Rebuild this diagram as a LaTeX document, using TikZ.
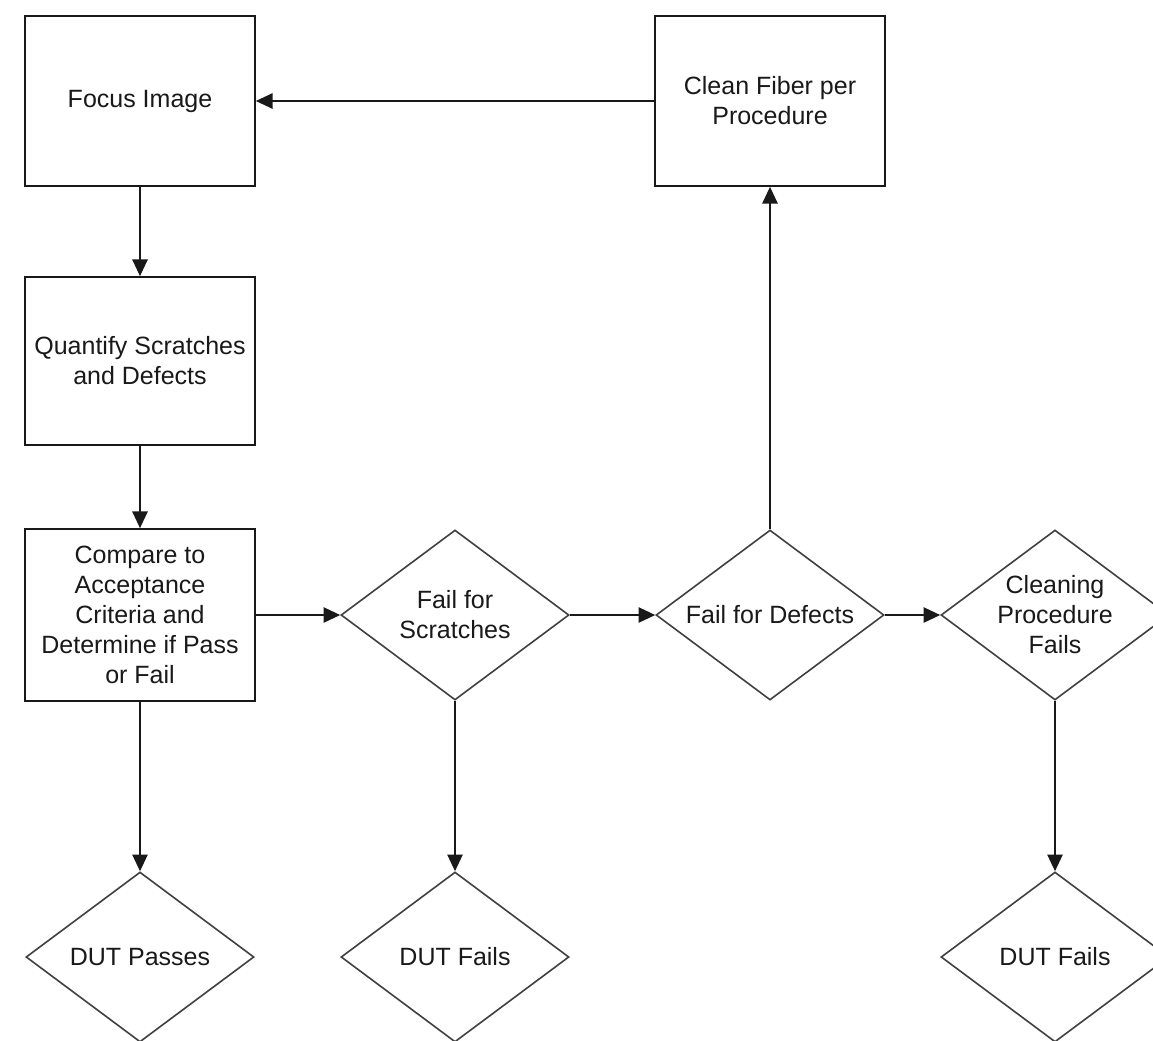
\documentclass[tikz,border=0pt]{standalone}
\usepackage{fontspec}
\setmainfont{Liberation Sans}
\usetikzlibrary{shapes.geometric,arrows.meta}
\tikzset{
  txt/.style={font=\fontsize{18.75pt}{22.5pt}\selectfont, text=black!90, align=center},
  procbox/.style={txt, draw=black!90, line width=1.3pt, rectangle, minimum width=172.5pt, minimum height=127.5pt, inner sep=0pt},
  decision/.style={txt, draw=black!75, line width=1.2pt, diamond, aspect=1.34, minimum width=171pt, minimum height=127.5pt, inner sep=0pt},
  arr/.style={draw=black!90, line width=1.2pt, -{Triangle[length=12.5pt,width=11.5pt]}}
}
\begin{document}
\begin{tikzpicture}[x=0.75pt,y=-0.75pt]
\fill[white] (0,0) rectangle (1153,1040);
\useasboundingbox (0,0) rectangle (1153,1040);
\clip (0,0) rectangle (1153,1040);
\node[procbox] (focus) at (140,101) {Focus Image};
\node[procbox] (clean) at (770,101) {Clean Fiber per\\Procedure};
\node[procbox, minimum height=126pt] (quant) at (140,361) {Quantify Scratches\\and Defects};
\node[procbox, minimum height=129pt] (compare) at (140,615) {Compare to\\Acceptance\\Criteria and\\Determine if Pass\\or Fail};
\node[decision] (fs) at (455,615) {Fail for\\Scratches};
\node[decision] (fd) at (770,615) {Fail for Defects};
\node[decision] (cp) at (1055,615) {Cleaning\\Procedure\\Fails};
\node[decision] (dp) at (140,957) {DUT Passes};
\node[decision] (df1) at (455,957) {DUT Fails};
\node[decision] (df2) at (1055,957) {DUT Fails};
\draw[arr] (clean) -- (focus);
\draw[arr] (focus) -- (quant);
\draw[arr] (quant) -- (compare);
\draw[arr] (compare) -- (fs);
\draw[arr] (fs) -- (fd);
\draw[arr] (fd) -- (cp);
\draw[arr] (fd) -- (clean);
\draw[arr] (compare) -- (dp);
\draw[arr] (fs) -- (df1);
\draw[arr] (cp) -- (df2);
\end{tikzpicture}
\end{document}
